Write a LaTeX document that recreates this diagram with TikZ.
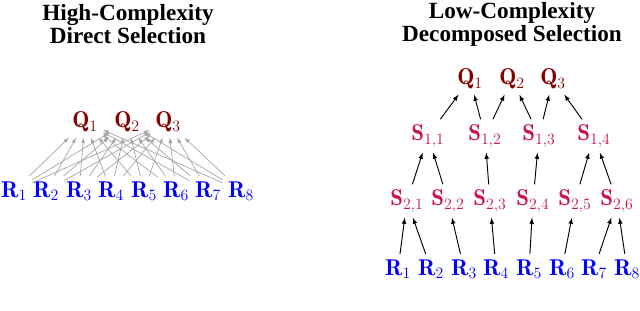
\documentclass[tikz,border=0pt]{standalone}
\usepackage{fix-cm}
\usepackage{fontspec}
\newfontfamily\titlefont{Liberation Serif}
\usetikzlibrary{arrows}
\DeclareMathSizes{19.5}{19.5}{13.5}{10}

\definecolor{qred}{RGB}{135,0,0}
\definecolor{scrim}{RGB}{200,20,80}

\begin{document}
\begin{tikzpicture}[
		x=0.03cm, y=-0.03cm,
		sym/.style={font=\fontsize{19.5}{21}\selectfont, inner sep=4.5pt},
		title/.style={font=\fontsize{19.8}{19.6}\selectfont\titlefont\bfseries, align=center},
		rnode/.style={sym, text=blue},
		snode/.style={sym, text=scrim},
		qnode/.style={sym, text=qred},
		arrow/.style={->, thick, >=latex},
		fan/.style={->, >=latex, semithick, draw=black!35},
		]
		\useasboundingbox (0,0) rectangle (640,311);
		
		% titles
		\node[title] (ltitle) at (128,24) {High-Complexity\\Direct Selection};
		\node[title] (rtitle) at (512,24) {Low-Complexity\\Decomposed Selection};
		
		% direct selection
		\node[qnode] (lq1) at (85,122)  {$\mathbf{Q}_1$};
		\node[qnode] (lq2) at (127,122) {$\mathbf{Q}_2$};
		\node[qnode] (lq3) at (168,122) {$\mathbf{Q}_3$};
		
		\node[rnode] (lr1) at (14,191)  {$\mathbf{R}_1$};
		\node[rnode] (lr2) at (46,191)  {$\mathbf{R}_2$};
		\node[rnode] (lr3) at (79,191)  {$\mathbf{R}_3$};
		\node[rnode] (lr4) at (111,191) {$\mathbf{R}_4$};
		\node[rnode] (lr5) at (144,191) {$\mathbf{R}_5$};
		\node[rnode] (lr6) at (176,191) {$\mathbf{R}_6$};
		\node[rnode] (lr7) at (208,191) {$\mathbf{R}_7$};
		\node[rnode] (lr8) at (241,191) {$\mathbf{R}_8$};
		
		\draw[fan] (lr1) -- (lq1); \draw[fan] (lr1) -- (lq2); \draw[fan] (lr1) -- (lq3);
		\draw[fan] (lr2) -- (lq1); \draw[fan] (lr2) -- (lq2); \draw[fan] (lr2) -- (lq3);
		\draw[fan] (lr3) -- (lq1); \draw[fan] (lr3) -- (lq2); \draw[fan] (lr3) -- (lq3);
		\draw[fan] (lr4) -- (lq1); \draw[fan] (lr4) -- (lq2); \draw[fan] (lr4) -- (lq3);
		\draw[fan] (lr5) -- (lq1); \draw[fan] (lr5) -- (lq2); \draw[fan] (lr5) -- (lq3);
		\draw[fan] (lr6) -- (lq1); \draw[fan] (lr6) -- (lq2); \draw[fan] (lr6) -- (lq3);
		\draw[fan] (lr7) -- (lq1); \draw[fan] (lr7) -- (lq2); \draw[fan] (lr7) -- (lq3);
		\draw[fan] (lr8) -- (lq1); \draw[fan] (lr8) -- (lq2); \draw[fan] (lr8) -- (lq3);
		
		% decomposed selection
		\node[qnode] (q1) at (470,79) {$\mathbf{Q}_1$};
		\node[qnode] (q2) at (512,79) {$\mathbf{Q}_2$};
		\node[qnode] (q3) at (553,79) {$\mathbf{Q}_3$};
		
		\node[snode] (s11) at (428,136) {$\mathbf{S}_{1,1}$};
		\node[snode] (s12) at (485,136) {$\mathbf{S}_{1,2}$};
		\node[snode] (s13) at (539,136) {$\mathbf{S}_{1,3}$};
		\node[snode] (s14) at (594,136) {$\mathbf{S}_{1,4}$};
		
		\node[snode] (s21) at (407,201) {$\mathbf{S}_{2,1}$};
		\node[snode] (s22) at (448,201) {$\mathbf{S}_{2,2}$};
		\node[snode] (s23) at (490,201) {$\mathbf{S}_{2,3}$};
		\node[snode] (s24) at (533,201) {$\mathbf{S}_{2,4}$};
		\node[snode] (s25) at (575,201) {$\mathbf{S}_{2,5}$};
		\node[snode] (s26) at (617,201) {$\mathbf{S}_{2,6}$};
		
		\node[rnode] (r1) at (398,269) {$\mathbf{R}_1$};
		\node[rnode] (r2) at (431,269) {$\mathbf{R}_2$};
		\node[rnode] (r3) at (464,269) {$\mathbf{R}_3$};
		\node[rnode] (r4) at (496,269) {$\mathbf{R}_4$};
		\node[rnode] (r5) at (529,269) {$\mathbf{R}_5$};
		\node[rnode] (r6) at (562,269) {$\mathbf{R}_6$};
		\node[rnode] (r7) at (594,269) {$\mathbf{R}_7$};
		\node[rnode] (r8) at (627,269) {$\mathbf{R}_8$};
		
		\draw[arrow] (r1) -- (s21);
		\draw[arrow] (r2) -- (s21);
		\draw[arrow] (r3) -- (s22);
		\draw[arrow] (r4) -- (s23);
		\draw[arrow] (r5) -- (s24);
		\draw[arrow] (r6) -- (s25);
		\draw[arrow] (r7) -- (s26);
		\draw[arrow] (r8) -- (s26);
		
		\draw[arrow] (s21) -- (s11);
		\draw[arrow] (s22) -- (s11);
		\draw[arrow] (s23) -- (s12);
		\draw[arrow] (s24) -- (s13);
		\draw[arrow] (s25) -- (s14);
		\draw[arrow] (s26) -- (s14);
		
		\draw[arrow] (s11) -- (q1);
		\draw[arrow] (s12) -- (q1);
		\draw[arrow] (s12) -- (q2);
		\draw[arrow] (s13) -- (q2);
		\draw[arrow] (s13) -- (q3);
		\draw[arrow] (s14) -- (q3);
		
	\end{tikzpicture}
\end{document}
